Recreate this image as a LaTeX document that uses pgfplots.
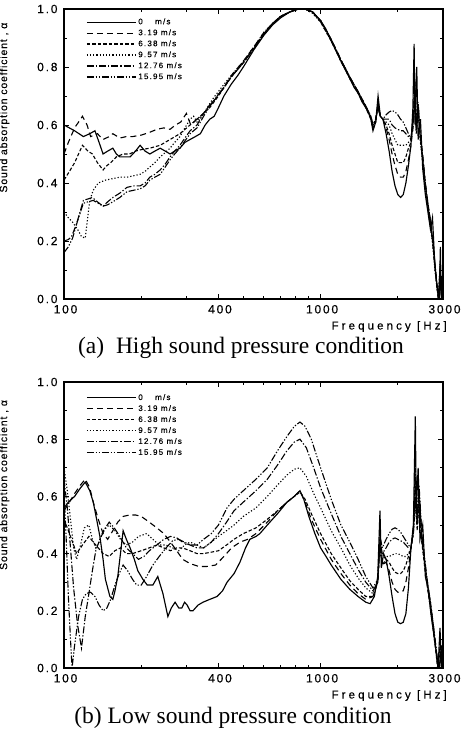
\documentclass[border=0pt]{standalone}
\usepackage{fontspec}
\setmainfont{Liberation Serif}
\setsansfont{Liberation Sans}
\newfontfamily\tickfont[LetterSpace=15,FakeBold=0.3]{Liberation Sans}
\newfontfamily\labfont[LetterSpace=8,FakeBold=0.2]{Liberation Sans}
\newfontfamily\freqfont[LetterSpace=27,FakeBold=0.3]{Liberation Sans}
\newfontfamily\legfont[LetterSpace=15,FakeBold=0.3]{Liberation Sans}
\usepackage{pgfplots}
\pgfplotsset{compat=1.18}
\usepackage{pgfplotstable}

% ---------------- High sound pressure ----------------
\pgfplotstableread{
f a
100 0.60
110 0.58
119 0.56
126 0.57
132 0.58
137 0.54
142 0.50
148 0.51
155 0.52
160 0.50
165 0.49
172 0.49
181 0.49
190 0.51
198 0.53
207 0.51
216 0.50
226 0.51
237 0.52
248 0.51
259 0.50
270 0.51
283 0.52
296 0.54
310 0.55
325 0.56
340 0.57
355 0.60
370 0.62
385 0.63
400 0.66
420 0.70
448 0.74
475 0.77
500 0.80
550 0.86
602 0.91
650 0.945
700 0.97
760 0.99
820 1.0
870 1.0
930 0.99
1000 0.96
1050 0.93
1100 0.89
1150 0.855
1200 0.82
1250 0.79
1300 0.76
1350 0.73
1400 0.71
1450 0.68
1500 0.66
1540 0.64
1570 0.62
1600 0.58
1640 0.61
1675 0.70
1710 0.63
1750 0.62
1800 0.57
1850 0.51
1900 0.44
1950 0.39
2000 0.36
2050 0.35
2100 0.36
2150 0.40
2200 0.46
2250 0.53
2290 0.66
2315 0.88
2335 0.60
2370 0.80
2400 0.55
2450 0.62
2500 0.45
2560 0.36
2620 0.30
2680 0.24
2730 0.28
2780 0.14
2830 0.06
2870 0.02
2900 0.0
2930 0.18
2950 0.02
2980 0.08
3000 0.0
}\Ta
\pgfplotstableread{
f a
100 0.50
104 0.54
110 0.59
118 0.63
123 0.60
127 0.56
135 0.57
142 0.55
150 0.56
155 0.57
165 0.555
175 0.56
185 0.56
200 0.565
216 0.575
230 0.585
245 0.59
259 0.585
272 0.60
285 0.61
300 0.64
312 0.60
330 0.62
350 0.64
370 0.67
390 0.69
420 0.73
448 0.77
500 0.82
550 0.87
602 0.92
650 0.95
700 0.975
760 0.99
820 1.0
870 1.0
930 0.99
1000 0.96
1100 0.895
1200 0.825
1300 0.765
1400 0.715
1500 0.665
1570 0.625
1600 0.59
1640 0.61
1675 0.68
1710 0.63
1750 0.62
1800 0.59
1850 0.55
1900 0.50
1950 0.46
2000 0.43
2050 0.42
2100 0.42
2150 0.44
2200 0.48
2250 0.53
2300 0.60
2330 0.68
2360 0.58
2400 0.66
2450 0.56
2500 0.50
2560 0.40
2620 0.33
2680 0.27
2740 0.20
2790 0.12
2840 0.05
2880 0.0
2920 0.10
2960 0.0
3000 0.03
}\Tb
\pgfplotstableread{
f a
100 0.41
105 0.44
110 0.47
118 0.53
124 0.51
129 0.50
135 0.47
142 0.445
147 0.46
152 0.47
160 0.49
170 0.50
180 0.50
190 0.51
200 0.515
216 0.52
237 0.53
259 0.55
283 0.57
310 0.60
340 0.63
370 0.66
400 0.70
448 0.765
500 0.815
550 0.865
602 0.915
650 0.95
700 0.975
760 0.99
820 1.0
870 1.0
930 0.99
1000 0.955
1100 0.89
1200 0.82
1300 0.76
1400 0.71
1500 0.66
1570 0.62
1600 0.59
1640 0.62
1675 0.67
1710 0.63
1750 0.62
1800 0.60
1850 0.57
1900 0.53
1950 0.50
2000 0.47
2050 0.47
2100 0.47
2150 0.49
2200 0.52
2250 0.54
2300 0.62
2330 0.70
2360 0.57
2400 0.64
2450 0.55
2500 0.48
2560 0.39
2620 0.32
2680 0.26
2740 0.19
2790 0.11
2840 0.04
2880 0.0
2920 0.08
2960 0.0
3000 0.02
}\Tc
\pgfplotstableread{
f a
100 0.30
104 0.28
108 0.265
113 0.24
117 0.215
121 0.21
126 0.34
130 0.375
136 0.40
145 0.41
155 0.415
165 0.42
176 0.42
187 0.425
198 0.43
207 0.44
216 0.455
226 0.47
237 0.49
248 0.505
259 0.52
270 0.54
283 0.56
296 0.59
310 0.62
320 0.63
330 0.61
350 0.64
380 0.69
420 0.74
448 0.77
500 0.82
550 0.87
602 0.92
650 0.95
700 0.975
760 0.99
820 1.0
870 1.0
930 0.985
1000 0.955
1100 0.89
1200 0.82
1300 0.76
1400 0.71
1500 0.66
1570 0.625
1600 0.60
1640 0.62
1675 0.66
1710 0.63
1750 0.62
1800 0.61
1850 0.60
1900 0.57
1950 0.55
2000 0.53
2050 0.53
2100 0.53
2150 0.53
2200 0.54
2250 0.55
2300 0.63
2330 0.72
2360 0.58
2400 0.65
2450 0.54
2500 0.47
2560 0.38
2620 0.31
2680 0.25
2740 0.18
2790 0.10
2840 0.04
2880 0.0
2920 0.12
2960 0.0
3000 0.02
}\Td
\pgfplotstableread{
f a
100 0.20
104 0.205
107 0.215
112 0.26
119 0.34
124 0.345
129 0.35
135 0.335
142 0.32
148 0.335
155 0.35
165 0.365
176 0.385
187 0.39
198 0.39
207 0.40
216 0.42
226 0.43
237 0.445
248 0.465
259 0.49
270 0.51
283 0.53
296 0.555
310 0.58
330 0.60
350 0.64
380 0.68
420 0.73
448 0.765
500 0.815
550 0.865
602 0.915
650 0.95
700 0.975
760 0.99
820 1.0
870 1.0
930 0.99
1000 0.96
1100 0.895
1200 0.825
1300 0.765
1400 0.715
1500 0.665
1570 0.63
1600 0.60
1640 0.62
1675 0.66
1710 0.63
1750 0.62
1800 0.62
1850 0.62
1900 0.60
1950 0.59
2000 0.585
2050 0.58
2100 0.58
2150 0.57
2200 0.56
2250 0.55
2300 0.63
2330 0.74
2360 0.60
2400 0.67
2450 0.55
2500 0.48
2560 0.39
2620 0.32
2680 0.26
2740 0.19
2790 0.11
2840 0.05
2880 0.0
2920 0.09
2960 0.0
3000 0.02
}\Te
\pgfplotstableread{
f a
100 0.16
104 0.18
108 0.21
113 0.27
119 0.33
124 0.335
130 0.34
136 0.33
142 0.32
148 0.325
155 0.335
165 0.35
176 0.37
187 0.375
198 0.38
207 0.39
216 0.41
226 0.42
237 0.43
248 0.455
259 0.48
270 0.50
283 0.52
296 0.545
310 0.57
330 0.59
350 0.63
380 0.68
420 0.73
448 0.765
500 0.815
550 0.865
602 0.915
650 0.95
700 0.975
760 0.99
820 1.0
870 1.0
930 0.99
1000 0.96
1100 0.895
1200 0.825
1300 0.765
1400 0.715
1500 0.665
1570 0.63
1600 0.60
1640 0.62
1675 0.66
1710 0.63
1750 0.62
1800 0.635
1850 0.645
1900 0.65
1950 0.645
2000 0.635
2050 0.62
2100 0.61
2150 0.59
2200 0.57
2250 0.55
2300 0.62
2330 0.76
2360 0.60
2400 0.68
2450 0.56
2500 0.49
2560 0.40
2620 0.33
2680 0.27
2740 0.20
2790 0.12
2840 0.05
2880 0.0
2920 0.11
2960 0.0
3000 0.03
}\Tf

% ---------------- Low sound pressure ----------------
\pgfplotstableread{
f a
100 0.56
104 0.58
110 0.60
116 0.63
121 0.65
126 0.62
130 0.58
134 0.52
138 0.46
142 0.38
145 0.31
151 0.25
155 0.24
158 0.27
162 0.32
166 0.40
170 0.48
175 0.45
181 0.42
188 0.38
194 0.34
203 0.31
211 0.29
222 0.29
232 0.32
243 0.26
254 0.18
262 0.21
271 0.23
280 0.21
288 0.21
295 0.23
302 0.22
310 0.20
318 0.20
333 0.22
348 0.23
370 0.24
395 0.25
415 0.27
432 0.30
460 0.33
485 0.37
510 0.42
530 0.45
560 0.46
580 0.47
620 0.50
680 0.54
740 0.58
790 0.60
831 0.62
860 0.59
900 0.53
950 0.47
1000 0.42
1050 0.39
1100 0.36
1200 0.31
1300 0.275
1400 0.25
1500 0.23
1560 0.225
1620 0.25
1670 0.32
1704 0.55
1725 0.35
1760 0.40
1800 0.38
1850 0.32
1900 0.25
1950 0.19
2000 0.16
2050 0.155
2100 0.16
2150 0.19
2200 0.28
2250 0.42
2300 0.50
2340 0.88
2360 0.55
2400 0.70
2440 0.45
2500 0.50
2560 0.32
2620 0.28
2700 0.18
2760 0.12
2820 0.06
2870 0.0
2920 0.14
2960 0.0
3000 0.02
}\Ba
\pgfplotstableread{
f a
100 0.55
105 0.58
110 0.61
116 0.64
121 0.66
126 0.63
130 0.58
136 0.52
142 0.47
148 0.45
155 0.48
162 0.51
170 0.53
180 0.535
190 0.535
200 0.53
215 0.51
230 0.49
245 0.47
260 0.44
275 0.41
290 0.38
310 0.365
335 0.355
360 0.355
390 0.36
420 0.39
450 0.42
485 0.44
520 0.45
560 0.47
620 0.51
680 0.55
740 0.58
790 0.60
831 0.62
870 0.58
920 0.52
1000 0.45
1100 0.38
1200 0.33
1300 0.29
1400 0.26
1500 0.24
1600 0.25
1670 0.30
1704 0.45
1740 0.36
1800 0.37
1850 0.34
1900 0.30
1950 0.275
2000 0.265
2050 0.265
2100 0.27
2150 0.30
2200 0.35
2250 0.42
2300 0.48
2340 0.62
2380 0.50
2420 0.62
2480 0.45
2540 0.38
2600 0.30
2680 0.22
2750 0.14
2810 0.07
2860 0.01
2900 0.0
2950 0.08
3000 0.0
}\Bb
\pgfplotstableread{
f a
100 0.52
104 0.48
108 0.44
112 0.40
118 0.43
125 0.46
130 0.44
136 0.42
142 0.40
150 0.39
158 0.41
166 0.42
175 0.40
185 0.40
200 0.41
215 0.42
230 0.43
245 0.42
260 0.41
275 0.42
290 0.42
310 0.41
330 0.40
350 0.40
375 0.405
400 0.41
430 0.43
460 0.45
500 0.47
560 0.49
620 0.52
680 0.55
740 0.58
790 0.60
831 0.615
870 0.59
920 0.54
1000 0.47
1100 0.40
1200 0.35
1300 0.305
1400 0.275
1500 0.25
1600 0.25
1670 0.30
1704 0.42
1740 0.36
1800 0.38
1850 0.37
1900 0.35
1950 0.335
2000 0.33
2050 0.33
2100 0.34
2150 0.36
2200 0.39
2250 0.42
2300 0.47
2340 0.58
2380 0.48
2420 0.58
2480 0.44
2540 0.36
2600 0.29
2680 0.21
2750 0.13
2810 0.06
2860 0.0
2910 0.06
2960 0.0
3000 0.02
}\Bc
\pgfplotstableread{
f a
100 0.70
103 0.62
106 0.52
109 0.42
112 0.38
116 0.43
120 0.49
125 0.50
129 0.45
133 0.42
137 0.44
142 0.48
150 0.50
158 0.48
166 0.45
175 0.43
185 0.44
195 0.46
210 0.47
222 0.45
235 0.43
250 0.43
265 0.42
280 0.41
295 0.43
310 0.44
330 0.43
350 0.42
375 0.44
400 0.46
430 0.48
460 0.50
500 0.53
560 0.56
620 0.60
680 0.64
740 0.675
790 0.695
831 0.70
880 0.67
940 0.61
1000 0.56
1100 0.48
1200 0.42
1300 0.36
1400 0.315
1500 0.28
1600 0.26
1670 0.30
1704 0.44
1740 0.38
1800 0.39
1850 0.39
1900 0.395
1950 0.40
2000 0.40
2050 0.395
2100 0.39
2150 0.39
2200 0.40
2250 0.42
2300 0.47
2340 0.60
2380 0.50
2420 0.60
2480 0.45
2540 0.37
2600 0.30
2680 0.22
2750 0.14
2810 0.07
2860 0.01
2900 0.0
2950 0.06
3000 0.0
}\Bd
\pgfplotstableread{
f a
100 0.66
103 0.56
106 0.42
109 0.28
113 0.15
117 0.07
121 0.18
125 0.26
129 0.34
133 0.41
138 0.45
145 0.49
150 0.51
157 0.49
165 0.46
175 0.42
185 0.40
195 0.38
205 0.39
215 0.41
230 0.43
245 0.45
260 0.46
275 0.455
290 0.44
310 0.43
330 0.42
350 0.42
375 0.44
400 0.47
430 0.51
460 0.55
500 0.58
560 0.62
620 0.66
680 0.71
740 0.76
790 0.79
831 0.80
880 0.77
940 0.70
1000 0.63
1100 0.54
1200 0.46
1300 0.40
1400 0.345
1500 0.30
1600 0.27
1670 0.30
1704 0.45
1740 0.40
1800 0.42
1850 0.44
1900 0.45
1950 0.455
2000 0.45
2050 0.445
2100 0.44
2150 0.43
2200 0.42
2250 0.42
2300 0.48
2340 0.66
2380 0.52
2420 0.62
2480 0.46
2540 0.38
2600 0.31
2680 0.23
2750 0.15
2810 0.08
2860 0.02
2900 0.0
2950 0.07
3000 0.0
}\Be
\pgfplotstableread{
f a
100 0.62
102 0.45
104 0.25
106 0.10
107.5 0.0
110 0.08
114 0.18
118 0.24
122 0.26
127 0.265
132 0.25
137 0.22
142 0.20
147 0.21
152 0.24
158 0.29
164 0.33
170 0.36
177 0.34
185 0.31
192 0.29
200 0.29
210 0.32
222 0.36
235 0.39
250 0.42
265 0.445
280 0.45
295 0.44
310 0.43
330 0.43
350 0.45
375 0.47
400 0.50
432 0.56
460 0.59
500 0.62
560 0.66
620 0.70
680 0.76
740 0.81
790 0.845
831 0.86
870 0.845
920 0.80
1000 0.70
1100 0.59
1200 0.50
1300 0.44
1400 0.38
1500 0.32
1600 0.28
1670 0.31
1704 0.46
1740 0.42
1800 0.45
1850 0.47
1900 0.485
1950 0.49
2000 0.485
2050 0.475
2100 0.46
2150 0.445
2200 0.43
2250 0.42
2300 0.49
2340 0.70
2380 0.53
2420 0.64
2480 0.47
2540 0.39
2600 0.31
2680 0.23
2750 0.15
2810 0.08
2860 0.02
2900 0.0
2950 0.05
3000 0.0
}\Bf

\tikzset{
  lsa/.style={black, line width=1.15bp, solid},
  lsb/.style={black, line width=1.1bp, dash pattern=on 6bp off 4bp},
  lsc/.style={black, line width=1.1bp, dash pattern=on 3.5bp off 2bp},
  lsd/.style={black, line width=1.1bp, dash pattern=on 1.2bp off 2bp},
  lse/.style={black, line width=1.1bp, dash pattern=on 7bp off 2bp on 1.3bp off 2bp},
  lsf/.style={black, line width=1.1bp, dash pattern=on 7bp off 1.8bp on 1.3bp off 1.8bp on 1.3bp off 1.8bp},
}
\newcommand{\tickf}{\tickfont\fontsize{12bp}{13bp}\selectfont}
\newcommand{\labf}{\labfont\fontsize{10.5bp}{11bp}\selectfont}
\newcommand{\legf}{\legfont\fontsize{8bp}{9bp}\selectfont}
\newcommand{\freqf}{\freqfont\fontsize{11.5bp}{12bp}\selectfont}

\begin{document}
\begin{tikzpicture}
\useasboundingbox (0,0) rectangle (462bp,736bp);
% top panel
\begin{axis}[
    at={(64bp,437bp)}, anchor=south west,
    xmode=log, scale only axis, width=379bp, height=290bp,
    xmin=100, xmax=3000, ymin=0, ymax=1,
    axis line style={line width=1.2bp},
    major tick length=5bp, minor tick length=3bp,
    xtick={100,400,1000,3000},
    xticklabels={100,400,1000,3000},
    minor xtick={200,300,500,600,700,800,900,2000},
    ytick={0,0.2,0.4,0.6,0.8,1.0},
    yticklabels={0.0,0.2,0.4,0.6,0.8,1.0},
    minor ytick={0.1,0.3,0.5,0.7,0.9},
    tick style={black, line width=0.9bp},
    tick label style={font=\tickf},
    xticklabel style={yshift=-2.5bp, xshift=1.5bp},
    yticklabel style={xshift=-3bp},
    xlabel={Frequency [Hz]},
    xlabel style={font=\freqf, at={(axis description cs:1,0)}, anchor=north east, inner sep=0pt, yshift=-22bp, xshift=4bp},
    ylabel={Sound absorption coefficient , α},
    ylabel style={font=\labf, at={(axis description cs:-0.135,0.66)}, anchor=south},
    legend cell align=left,
    legend image code/.code={\draw[#1] (0bp,0bp) -- (49bp,0bp);},
    legend style={draw=none, fill=none, anchor=north west, inner sep=0bp,
      font=\legf, row sep=-0.3bp, at={(axis description cs:0.058,0.975)}},
  ]
\addplot[lsa] table[x=f,y=a]{\Ta}; \addlegendentry{0\hspace{1.55em}m/s}
\addplot[lsb] table[x=f,y=a]{\Tb}; \addlegendentry{3.19 m/s}
\addplot[lsc] table[x=f,y=a]{\Tc}; \addlegendentry{6.38 m/s}
\addplot[lsd] table[x=f,y=a]{\Td}; \addlegendentry{9.57 m/s}
\addplot[lse] table[x=f,y=a]{\Te}; \addlegendentry{12.76 m/s}
\addplot[lsf] table[x=f,y=a]{\Tf}; \addlegendentry{15.95 m/s}
\end{axis}
% bottom panel
\begin{axis}[
    at={(64bp,68bp)}, anchor=south west,
    xmode=log, scale only axis, width=379bp, height=286bp,
    xmin=100, xmax=3000, ymin=0, ymax=1,
    axis line style={line width=1.2bp},
    major tick length=5bp, minor tick length=3bp,
    xtick={100,400,1000,3000},
    xticklabels={100,400,1000,3000},
    minor xtick={200,300,500,600,700,800,900,2000},
    ytick={0,0.2,0.4,0.6,0.8,1.0},
    yticklabels={0.0,0.2,0.4,0.6,0.8,1.0},
    minor ytick={0.1,0.3,0.5,0.7,0.9},
    tick style={black, line width=0.9bp},
    tick label style={font=\tickf},
    xticklabel style={yshift=-2.5bp, xshift=1.5bp},
    yticklabel style={xshift=-3bp},
    xlabel={Frequency [Hz]},
    xlabel style={font=\freqf, at={(axis description cs:1,0)}, anchor=north east, inner sep=0pt, yshift=-22bp, xshift=4bp},
    ylabel={Sound absorption coefficient , α},
    ylabel style={font=\labf, at={(axis description cs:-0.135,0.64)}, anchor=south},
    legend cell align=left,
    legend image code/.code={\draw[#1] (0bp,0bp) -- (49bp,0bp);},
    legend style={draw=none, fill=none, anchor=north west, inner sep=0bp,
      font=\legf, row sep=-0.3bp, at={(axis description cs:0.058,0.965)}},
  ]
\addplot[lsa] table[x=f,y=a]{\Ba}; \addlegendentry{0\hspace{1.55em}m/s}
\addplot[lsb] table[x=f,y=a]{\Bb}; \addlegendentry{3.19 m/s}
\addplot[lsc] table[x=f,y=a]{\Bc}; \addlegendentry{6.38 m/s}
\addplot[lsd] table[x=f,y=a]{\Bd}; \addlegendentry{9.57 m/s}
\addplot[lse] table[x=f,y=a]{\Be}; \addlegendentry{12.76 m/s}
\addplot[lsf] table[x=f,y=a]{\Bf}; \addlegendentry{15.95 m/s}
\end{axis}
\node[font=\fontsize{23.5bp}{25bp}\selectfont] at (241bp,388bp) {(a)\hspace{0.5em}High sound pressure condition};
\node[font=\fontsize{23.5bp}{25bp}\selectfont] at (233bp,18bp) {(b) Low sound pressure condition};
\end{tikzpicture}
\end{document}
